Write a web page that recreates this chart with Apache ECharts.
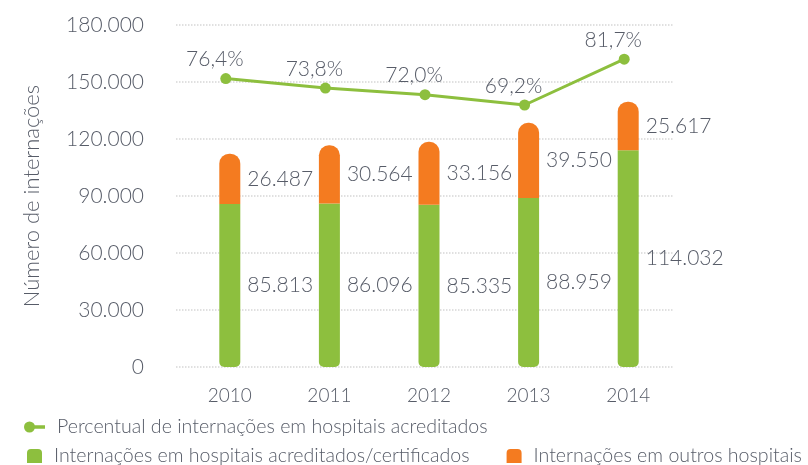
<!DOCTYPE html>
<html>
<head>
<meta charset="utf-8">
<script src="https://cdn.jsdelivr.net/npm/echarts@6/dist/echarts.min.js"></script>
<style>
html,body{margin:0;padding:0;background:#fff;}
#chart{width:808px;height:465px;}
</style>
</head>
<body>
<div id="chart"></div>
<script>
const categories = ['2010', '2011', '2012', '2013', '2014'];
const acreditados = [85813, 86096, 85335, 88959, 114032];
const outros = [26487, 30564, 33156, 39550, 25617];
const percentual = [76.4, 73.8, 72.0, 69.2, 81.7];
const yMin = 0, yMax = 180000, yInterval = 30000;

const FONT = 'Lato';
const TXT = '#575c68';
const GREEN = '#8dbf3e';
const ORANGE = '#f47b20';

function fmt(v) {
  return String(Math.round(v)).replace(/\B(?=(\d{3})+(?!\d))/g, '.');
}
function pct(v) {
  return v.toFixed(1).replace('.', ',') + '%';
}

const chart = echarts.init(document.getElementById('chart'), null, {renderer: 'canvas'});

const barIcon = 'path://M0,4 Q0,0 4,0 L11,0 Q15,0 15,4 L15,14 L0,14 Z';
const lineIcon = 'path://M0,5.5 A5.5,5.5 0 1,1 11,5.5 A5.5,5.5 0 1,1 0,5.5 Z M9,3.8 L21,3.8 L21,7.2 L9,7.2 Z';
const legendText = {fontFamily: FONT, fontSize: 19.6, color: TXT, fontWeight: 300, padding: [0, 0, 0, 7]};

const option = {
  animation: false,
  backgroundColor: '#fff',
  textStyle: {fontFamily: FONT, color: TXT},
  grid: [
    {left: 176, right: 134, top: 25, bottom: 98},
    {left: 180, right: 130, top: 25, bottom: 88}
  ],
  legend: [
    {
      data: [{name: 'Percentual de internações em hospitais acreditados', icon: lineIcon}],
      left: 24, top: 417, padding: 0,
      itemWidth: 21, itemHeight: 11,
      textStyle: legendText
    },
    {
      data: [
        {name: 'Internações em hospitais acreditados/certificados', icon: barIcon},
        {name: 'Internações em outros hospitais', icon: barIcon}
      ],
      left: 27, top: 446, padding: 0,
      itemWidth: 15, itemHeight: 14, itemGap: 37,
      textStyle: legendText
    }
  ],
  xAxis: [
    {
      type: 'category', gridIndex: 0, data: categories,
      axisLine: {show: false}, axisTick: {show: false}, axisLabel: {show: false}
    },
    {
      type: 'category', gridIndex: 1, data: categories,
      axisLine: {show: false}, axisTick: {show: false},
      axisLabel: {margin: 9, fontSize: 19, color: TXT, fontFamily: FONT, fontWeight: 300}
    }
  ],
  yAxis: [
    {
      type: 'value', gridIndex: 0, min: yMin, max: yMax, interval: yInterval,
      name: 'Número de internações', nameLocation: 'middle', nameGap: 133,
      nameTextStyle: {fontSize: 22, color: TXT, fontFamily: FONT, fontWeight: 300},
      axisLine: {show: false}, axisTick: {show: false},
      axisLabel: {margin: 32, fontSize: 21, color: TXT, fontFamily: FONT, fontWeight: 300,
        formatter: v => v === 0 ? '0' : fmt(v)},
      splitLine: {show: true, lineStyle: {type: 'dotted', color: '#d6d6d6', width: 1.5}}
    },
    {
      type: 'value', gridIndex: 0, min: -2.2, max: 91.0, show: false,
      splitLine: {show: false}
    },
    {
      type: 'value', gridIndex: 1, min: -5263, max: yMax, show: false,
      splitLine: {show: false}
    }
  ],
  series: [
    {
      name: 'Internações em hospitais acreditados/certificados',
      type: 'bar', xAxisIndex: 1, yAxisIndex: 2, stack: 'total',
      barWidth: 21,
      data: acreditados,
      itemStyle: {color: GREEN, borderRadius: [0, 0, 5, 5]},
      label: {show: true, position: 'right', distance: 7, fontSize: 21, color: TXT,
        fontFamily: FONT, fontWeight: 300, formatter: p => fmt(p.value)}
    },
    {
      name: 'Internações em outros hospitais',
      type: 'bar', xAxisIndex: 1, yAxisIndex: 2, stack: 'total',
      barWidth: 21,
      data: outros,
      itemStyle: {color: ORANGE, borderRadius: [10, 10, 0, 0]},
      label: {show: true, position: 'right', distance: 7, fontSize: 21, color: TXT,
        fontFamily: FONT, fontWeight: 300, formatter: p => fmt(p.value)}
    },
    {
      name: 'Percentual de internações em hospitais acreditados',
      type: 'line', xAxisIndex: 0, yAxisIndex: 1,
      data: percentual,
      symbol: 'circle', symbolSize: 11,
      lineStyle: {color: GREEN, width: 3},
      itemStyle: {color: GREEN},
      label: {show: true, position: 'top', distance: 3, offset: [-11, 0], fontSize: 21,
        color: TXT, fontFamily: FONT, fontWeight: 300, formatter: p => pct(p.value)}
    }
  ]
};
chart.setOption(option);
</script>
</body>
</html>
